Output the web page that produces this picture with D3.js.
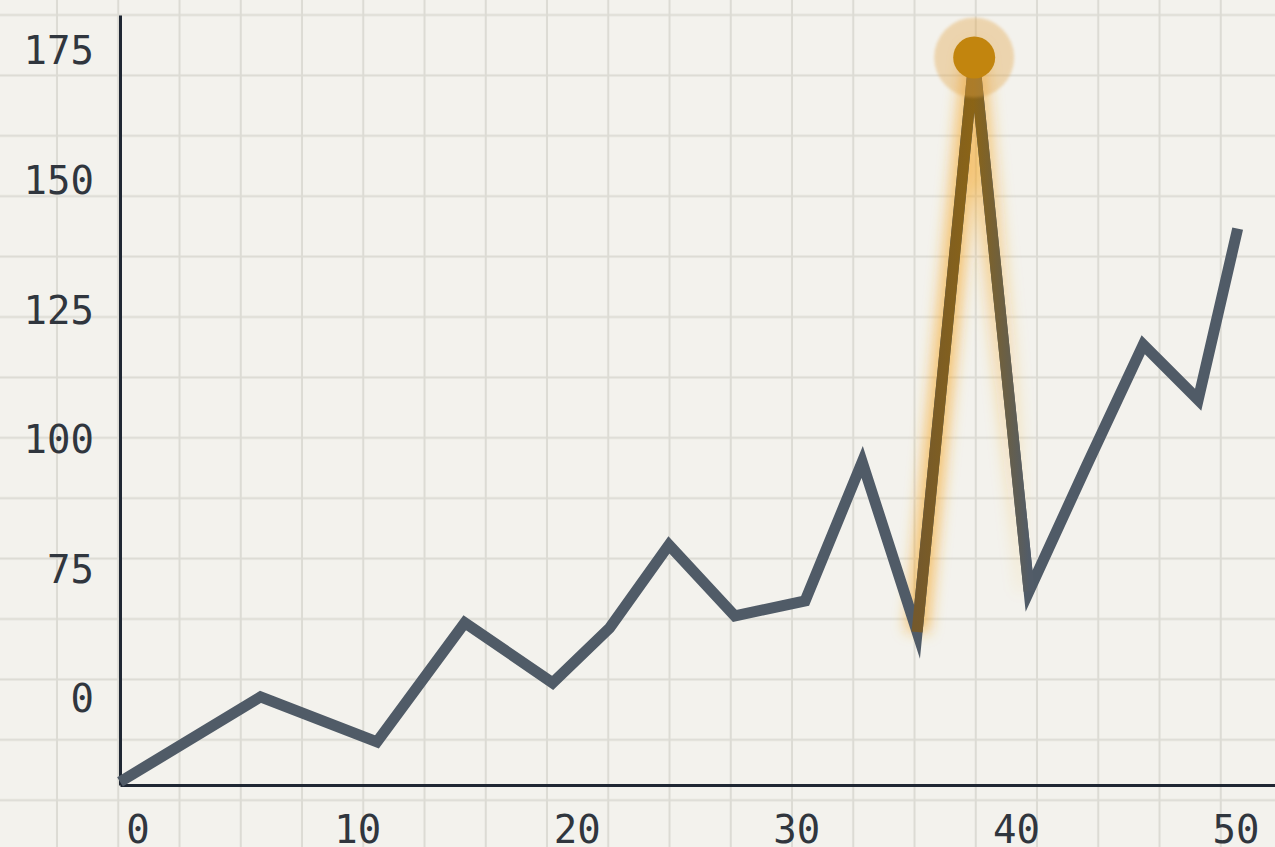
<!DOCTYPE html>
<html>
<head>
<meta charset="utf-8">
<script src="https://cdn.jsdelivr.net/npm/d3@7"></script>
<style>
  html, body { margin: 0; padding: 0; background: #f3f2ed; }
  #app { width: 1275px; height: 847px; overflow: hidden; }
</style>
</head>
<body>
<div id="app"></div>
<script>
// data
const xTicks = [0, 10, 20, 30, 40, 50];
const yTicks = [50, 75, 100, 125, 150, 175];
const yTickLabels = ["0", "75", "100", "125", "150", "175"];
const xValues = [-0.8, 5.6, 10.9, 14.9, 18.9, 21.5, 24.2, 27.2, 30.4, 33.0, 35.5, 38.1, 40.6, 43.2, 45.8, 48.3, 50.1];
const yValues = [33.8, 50.2, 41.5, 64.5, 52.9, 63.5, 79.5, 65.8, 68.7, 95.5, 62.7, 173.5, 70.6, 94.6, 118.1, 107.5, 140.5];
const spikeIndex = 11;

const w = 1275;
const h = 847;
const marginLeft = 120;
const axisBottomY = 785;
const axisTopY = 15;

const data = xValues.map((x, i) => [x, yValues[i]]);

const svg = d3.select("#app")
  .append("svg")
  .attr("width", w)
  .attr("height", h);

const defs = svg.append("defs");

//graph paper background
const pat = defs.append("pattern")
  .attr("id", "paper")
  .attr("patternUnits", "userSpaceOnUse")
  .attr("x", 57 - 30.6)
  .attr("y", 15 - 30.2)
  .attr("width", 61.25)
  .attr("height", 60.4);
pat.append("rect").attr("width", 61.25).attr("height", 60.4).attr("fill", "#f3f2ed");
pat.append("line").attr("x1", 30.6).attr("x2", 30.6).attr("y1", 0).attr("y2", 60.4)
  .attr("stroke", "#dcdbd4").attr("stroke-width", 2);
pat.append("line").attr("y1", 30.2).attr("y2", 30.2).attr("x1", 0).attr("x2", 61.25)
  .attr("stroke", "#dcdbd4").attr("stroke-width", 2);

svg.append("rect").attr("width", w).attr("height", h).attr("fill", "url(#paper)");

//scales
const x = d3.scaleLinear().domain([-0.8, 51.8]).range([marginLeft, w]);
const y = d3.scaleLinear().domain([33.2, 181.7]).range([axisBottomY, axisTopY]);

//axes
const xAxis = d3.axisBottom(x).tickValues(xTicks).tickSize(0).tickPadding(30).tickFormat(d3.format("d"));
const yAxis = d3.axisLeft(y).tickValues(yTicks).tickSize(0).tickPadding(26)
  .tickFormat((d, i) => yTickLabels[i]);

const gx = svg.append("g")
  .attr("transform", "translate(0," + axisBottomY + ")")
  .call(xAxis);
const gy = svg.append("g")
  .attr("transform", "translate(" + marginLeft + ",0)")
  .call(yAxis);

[gx, gy].forEach((g) => {
  g.select(".domain").attr("stroke", "#1f2733").attr("stroke-width", 3);
  g.selectAll("text")
    .attr("fill", "#30363e")
    .style("font-family", "'DejaVu Sans Mono', monospace")
    .style("font-size", "39px");
});
gy.selectAll("text").attr("dy", "0.36em");
gx.selectAll("text").attr("dy", "0.71em");

//glow + gradients for the spike
const glowFilter = defs.append("filter")
  .attr("id", "glow")
  .attr("x", "-50%").attr("y", "-20%")
  .attr("width", "200%").attr("height", "140%");
glowFilter.append("feGaussianBlur").attr("stdDeviation", 7);

const haloFilter = defs.append("filter").attr("id", "halo");
haloFilter.append("feGaussianBlur").attr("stdDeviation", 1.5);

const x0 = x(xValues[spikeIndex - 1]);
const x2 = x(xValues[spikeIndex + 1]);

const strokeGrad = defs.append("linearGradient")
  .attr("id", "spikeStroke")
  .attr("gradientUnits", "userSpaceOnUse")
  .attr("x1", x0).attr("x2", x2).attr("y1", 0).attr("y2", 0);
strokeGrad.append("stop").attr("offset", 0).attr("stop-color", "#74592c");
strokeGrad.append("stop").attr("offset", 0.5).attr("stop-color", "#8b6416");
strokeGrad.append("stop").attr("offset", 1).attr("stop-color", "#525c68");

const glowGrad = defs.append("linearGradient")
  .attr("id", "spikeGlow")
  .attr("gradientUnits", "userSpaceOnUse")
  .attr("x1", x0 - 10).attr("x2", x2).attr("y1", 0).attr("y2", 0);
glowGrad.append("stop").attr("offset", 0).attr("stop-color", "#f5a623").attr("stop-opacity", 0.6);
glowGrad.append("stop").attr("offset", 0.55).attr("stop-color", "#f5a623").attr("stop-opacity", 0.6);
glowGrad.append("stop").attr("offset", 1).attr("stop-color", "#f5a623").attr("stop-opacity", 0);

const line = d3.line().x((d) => x(d[0])).y((d) => y(d[1]));
const spike = data.slice(spikeIndex - 1, spikeIndex + 2);

svg.append("path")
  .datum(spike)
  .attr("d", line)
  .attr("fill", "none")
  .attr("stroke", "url(#spikeGlow)")
  .attr("stroke-width", 24)
  .attr("stroke-linejoin", "round")
  .attr("filter", "url(#glow)");

//main line (miter limit lets the sharp peak bevel under the marker)
svg.append("path")
  .datum(data)
  .attr("d", line)
  .attr("fill", "none")
  .attr("stroke", "#505b67")
  .attr("stroke-width", 11)
  .attr("stroke-linejoin", "miter")
  .attr("stroke-miterlimit", 7);

svg.append("path")
  .datum(spike)
  .attr("d", line)
  .attr("fill", "none")
  .attr("stroke", "url(#spikeStroke)")
  .attr("stroke-width", 11)
  .attr("stroke-linejoin", "miter")
  .attr("stroke-miterlimit", 7);

//peak marker
const peak = data[spikeIndex];
svg.append("circle")
  .attr("cx", x(peak[0]))
  .attr("cy", y(peak[1]))
  .attr("r", 40)
  .attr("fill", "#e2a548")
  .attr("opacity", 0.38)
  .attr("filter", "url(#halo)");
svg.append("circle")
  .attr("cx", x(peak[0]))
  .attr("cy", y(peak[1]))
  .attr("r", 21)
  .attr("fill", "#c2850e");
</script>
</body>
</html>
